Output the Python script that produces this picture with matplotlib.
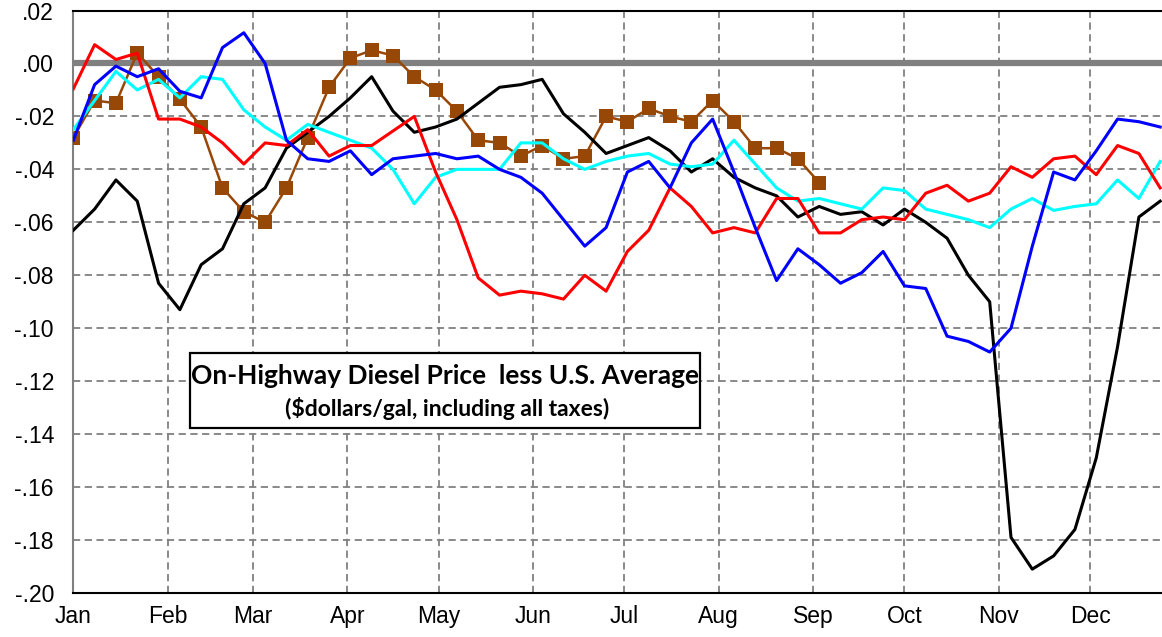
import matplotlib
matplotlib.use("Agg")
import matplotlib.pyplot as plt
from matplotlib.patches import Rectangle
import numpy as np

# ---------------- data (weekly) ----------------
months = ["Jan", "Feb", "Mar", "Apr", "May", "Jun", "Jul", "Aug", "Sep", "Oct", "Nov", "Dec"]
month_start_day = [0, 31, 59, 90, 120, 151, 181, 212, 243, 273, 304, 334]
y_ticks = [0.02, 0.0, -0.02, -0.04, -0.06, -0.08, -0.10, -0.12, -0.14, -0.16, -0.18, -0.20]
y_tick_labels = [".02", ".00", "-.02", "-.04", "-.06", "-.08", "-.10", "-.12", "-.14", "-.16", "-.18", "-.20"]

black_vals = [-0.063, -0.055, -0.044, -0.052, -0.083, -0.093, -0.076, -0.070, -0.053, -0.047,
              -0.032, -0.026, -0.020, -0.013, -0.005, -0.018, -0.026, -0.024, -0.021, -0.015,
              -0.009, -0.008, -0.006, -0.019, -0.026, -0.034, -0.031, -0.028, -0.033, -0.041,
              -0.036, -0.043, -0.047, -0.050, -0.058, -0.054, -0.057, -0.056, -0.061, -0.055,
              -0.060, -0.066, -0.080, -0.090, -0.179, -0.191, -0.186, -0.176, -0.149, -0.107,
              -0.058, -0.052]
red_vals = [-0.0096, 0.0071, 0.0015, 0.0039, -0.021, -0.021, -0.024, -0.030, -0.038, -0.030,
            -0.031, -0.025, -0.035, -0.031, -0.031, -0.0255, -0.020, -0.041, -0.059, -0.081,
            -0.0875, -0.086, -0.087, -0.089, -0.080, -0.086, -0.071, -0.063, -0.047, -0.054,
            -0.064, -0.062, -0.064, -0.051, -0.051, -0.064, -0.064, -0.059, -0.058, -0.059,
            -0.049, -0.046, -0.052, -0.049, -0.039, -0.043, -0.036, -0.035, -0.042, -0.031,
            -0.034, -0.047]
blue_vals = [-0.029, -0.008, -0.001, -0.005, -0.002, -0.0105, -0.013, 0.006, 0.0116, 0.000,
             -0.029, -0.036, -0.037, -0.033, -0.042, -0.036, -0.035, -0.034, -0.036, -0.035,
             -0.040, -0.043, -0.049, -0.059, -0.069, -0.062, -0.041, -0.037, -0.047, -0.030,
             -0.021, -0.041, -0.062, -0.082, -0.070, -0.076, -0.083, -0.079, -0.071, -0.084,
             -0.085, -0.103, -0.105, -0.109, -0.100, -0.069, -0.041, -0.044, -0.033, -0.021,
             -0.022, -0.024]
cyan_vals = [-0.025, -0.014, -0.003, -0.010, -0.006, -0.013, -0.005, -0.006, -0.0175, -0.024,
             -0.029, -0.023, -0.026, -0.029, -0.032, -0.040, -0.053, -0.043, -0.040, -0.040,
             -0.040, -0.030, -0.030, -0.036, -0.040, -0.037, -0.035, -0.034, -0.038, -0.039,
             -0.038, -0.029, -0.038, -0.047, -0.052, -0.051, -0.053, -0.055, -0.047, -0.048,
             -0.055, -0.057, -0.059, -0.062, -0.055, -0.051, -0.0555, -0.054, -0.053, -0.044,
             -0.051, -0.037]
brown_vals = [-0.028, -0.014, -0.015, 0.004, -0.005, -0.0135, -0.024, -0.047, -0.056, -0.060,
              -0.047, -0.028, -0.009, 0.002, 0.005, 0.003, -0.005, -0.010, -0.018, -0.029,
              -0.030, -0.035, -0.031, -0.036, -0.035, -0.020, -0.022, -0.017, -0.020, -0.022,
              -0.014, -0.022, -0.032, -0.032, -0.036, -0.045]

title_line1 = "On-Highway Diesel Price  less U.S. Average"
title_line2 = "($dollars/gal, including all taxes)"

# week k -> day of year
days = np.arange(len(black_vals)) * 7
brown_days = np.arange(len(brown_vals)) * 7

plt.rcParams['font.family'] = ['Liberation Sans', 'DejaVu Sans']

fig = plt.figure(figsize=(11.62, 6.37), dpi=100)
ax = fig.add_axes([0.0631, 0.0691, 0.9369, 0.9144])

grey = "#808080"
#### grid
ax.set_xticks(month_start_day)
ax.set_yticks(y_ticks)
ax.grid(True, color=grey, linestyle=(0, (4, 2.5)), linewidth=1.3)
ax.set_axisbelow(True)
ax.axhline(0, color=grey, linewidth=4.5, zorder=1.5)

#### series
ax.plot(brown_days, brown_vals, color="#974706", linewidth=1.8, marker="s",
        markersize=9.5, markeredgewidth=0, zorder=3)
ax.plot(days, black_vals, color="black", linewidth=2.2, zorder=3)
ax.plot(days, cyan_vals, color="#00FFFF", linewidth=2.2, zorder=3)
ax.plot(days, red_vals, color="#FF0000", linewidth=2.2, zorder=3)
ax.plot(days, blue_vals, color="#0000FF", linewidth=2.2, zorder=3)

ax.set_xlim(0, 357.6)
ax.set_ylim(-0.20, 0.02)
ax.set_xticklabels(months, fontsize=16.5)
ax.set_yticklabels(y_tick_labels, fontsize=16.5)
ax.tick_params(axis="y", length=0, pad=14)
ax.tick_params(axis="x", length=0, pad=9)

for side in ["top", "bottom"]:
    ax.spines[side].set_color("black")
    ax.spines[side].set_linewidth(1.5)
ax.spines["left"].set_color(grey)
ax.spines["left"].set_linewidth(1.5)
ax.spines["right"].set_visible(False)

#### text box (figure pixel coords)
W, H = 1162, 637
box = Rectangle((190 / W, 1 - 428 / H), 510 / W, 75 / H, transform=fig.transFigure,
                facecolor="white", edgecolor="black", linewidth=1.6, zorder=10)
fig.patches.append(box)
fig.text(445 / W, 1 - 376 / H, title_line1, ha="center", va="center", fontsize=19,
         fontweight="bold", family=["Lato", "DejaVu Sans"], zorder=11)
fig.text(447 / W, 1 - 408 / H, title_line2, ha="center", va="center", fontsize=16.5,
         fontweight="bold", family=["Lato", "DejaVu Sans"], zorder=11)

fig.savefig("out.png", dpi=100)
